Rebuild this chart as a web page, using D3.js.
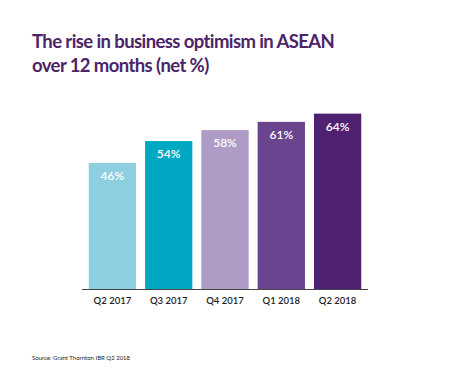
<!DOCTYPE html>
<html>
<head>
<meta charset="utf-8">
<script src="https://cdn.jsdelivr.net/npm/d3@7"></script>
<style>
  body { margin: 0; background: #fff; }
  svg { display: block; font-family: Lato, "Noto Sans", sans-serif; }
</style>
</head>
<body>
<svg id="chart"></svg>
<script>
const quarters = ["Q2 2017", "Q3 2017", "Q4 2017", "Q1 2018", "Q2 2018"];
const optimism = [46, 54, 58, 61, 64];
const barColors = ["#8dcfdf", "#00a8c4", "#ae9cc7", "#6b448f", "#4f2170"];
const titleLines = ["The rise in business optimism in ASEAN", "over 12 months (net %)"];
const source = "Source: Grant Thornton IBR Q2 2018";

const width = 450;
const height = 391;
const baseline = 289;

const data = quarters.map((q, i) => ({ q, v: optimism[i], c: barColors[i] }));

const svg = d3.select("#chart").attr("width", width).attr("height", height);

svg.append("rect").attr("width", width).attr("height", height).attr("fill", "#fff");

// title
svg
  .append("g")
  .selectAll("text")
  .data(titleLines)
  .join("text")
  .attr("x", 32)
  .attr("y", (d, i) => 48 + i * 24)
  .attr("fill", "#4b2568")
  .attr("font-size", 18.5)
  .attr("font-weight", 700)
  .attr("letter-spacing", -0.6)
  .text((d) => d);

const x = d3
  .scaleBand()
  .domain(quarters)
  .range([82, 368])
  .paddingInner(0.16)
  .paddingOuter(0.12);

const y = d3.scaleLinear().domain([0, 100]).range([baseline, 15]);

svg
  .append("g")
  .selectAll("rect")
  .data(data)
  .join("rect")
  .attr("x", (d) => x(d.q))
  .attr("y", (d) => y(d.v))
  .attr("width", x.bandwidth())
  .attr("height", (d) => y(0) - y(d.v))
  .attr("fill", (d) => d.c);

svg
  .append("g")
  .selectAll("text")
  .data(data)
  .join("text")
  .attr("x", (d) => x(d.q) + x.bandwidth() / 2)
  .attr("y", (d) => y(d.v) + 17)
  .attr("text-anchor", "middle")
  .attr("fill", "#fff")
  .attr("font-size", 12)
  .attr("font-weight", 600)
  .text((d) => d.v + "%");

const xAxis = svg
  .append("g")
  .attr("transform", `translate(0,${baseline})`)
  .call(d3.axisBottom(x).tickSize(0).tickPadding(8));

xAxis.select(".domain").attr("stroke", "#444").attr("d", "M82,0.5H368");
xAxis
  .selectAll("text")
  .attr("font-family", "Lato, sans-serif")
  .attr("font-size", 9.5)
  .attr("font-weight", 600)
  .attr("fill", "#222");

svg
  .append("text")
  .attr("x", 32)
  .attr("y", 360)
  .attr("font-size", 6)
  .attr("fill", "#222")
  .text(source);
</script>
</body>
</html>
